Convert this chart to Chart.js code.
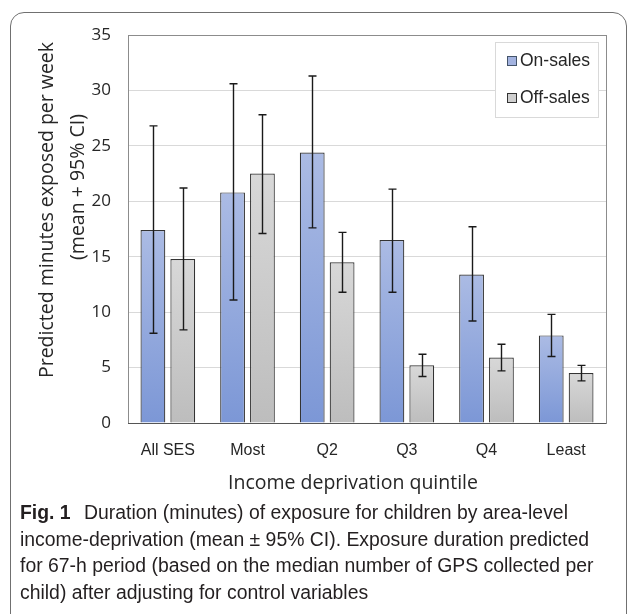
<!DOCTYPE html>
<html>
<head>
<meta charset="utf-8">
<script src="https://cdn.jsdelivr.net/npm/chart.js@4.4.0/dist/chart.umd.min.js"></script>
<style>
  body { margin: 0; background: #fff; width: 630px; height: 614px; overflow: hidden; position: relative; }
  #frame { position: absolute; left: 10px; top: 12px; width: 617px; height: 650px; border: 1px solid #707070; border-radius: 14px; box-sizing: border-box; }
  #wrap { position: absolute; left: 0; top: 0; width: 630px; height: 500px; }
  #caption { position: absolute; left: 20px; top: 499px; width: 605px; font-family: "Liberation Sans", Arial, sans-serif; font-size: 19.4px; line-height: 26.5px; color: #231f20; white-space: nowrap; }
  #caption b { margin-right: 8px; }
</style>
</head>
<body>
<div id="frame"></div>
<div id="wrap"><canvas id="exposureChart" width="630" height="500"></canvas></div>
<div id="caption">
  <b>Fig. 1</b> Duration (minutes) of exposure for children by area-level<br>
  income-deprivation (mean ± 95% CI). Exposure duration predicted<br>
  for 67-h period (based on the median number of GPS collected per<br>
  child) after adjusting for control variables
</div>
<script>
const categories = ['All SES', 'Most', 'Q2', 'Q3', 'Q4', 'Least'];
const onSales = [17.4, 20.8, 24.4, 16.5, 13.4, 7.9];
const onSalesLow = [8.1, 11.1, 17.6, 11.8, 9.2, 6.0];
const onSalesHigh = [26.8, 30.6, 31.3, 21.1, 17.7, 9.8];
const offSales = [14.8, 22.5, 14.5, 5.2, 5.9, 4.5];
const offSalesLow = [8.4, 17.1, 11.8, 4.2, 4.7, 3.8];
const offSalesHigh = [21.2, 27.8, 17.2, 6.2, 7.1, 5.2];
const yTicks = [0, 5, 10, 15, 20, 25, 30, 35];
const yTitle = ['Predicted minutes exposed per week', '(mean + 95% CI)'];
const xTitle = 'Income deprivation quintile';

const errLow = [onSalesLow, offSalesLow];
const errHigh = [onSalesHigh, offSalesHigh];
const titleFont = '19.5px "Open Sans", sans-serif';

function barGradient(top, bottom) {
    return function (context) {
        const chart = context.chart;
        if (!chart.chartArea || context.parsed == null) return bottom;
        const y = chart.scales.y;
        const y0 = y.getPixelForValue(0);
        const y1 = y.getPixelForValue(context.parsed.y);
        const g = chart.ctx.createLinearGradient(0, y1, 0, y0);
        g.addColorStop(0, top);
        g.addColorStop(1, bottom);
        return g;
    };
}

// error bars, plot frame, axis titles and legend box
const extras = {
    id: 'extras',
    beforeDatasetsDraw(chart) {
        const { ctx, chartArea: a } = chart;
        ctx.save();
        ctx.strokeStyle = '#8c8c8c';
        ctx.lineWidth = 1;
        ctx.strokeRect(Math.round(a.left) + 0.5, Math.round(a.top) + 0.5, Math.round(a.right - a.left), Math.round(a.bottom - a.top));
        ctx.restore();
    },
    afterDatasetsDraw(chart) {
        const { ctx, scales } = chart;
        const a = chart.chartArea;
        ctx.save();
        ctx.strokeStyle = '#1a1a1a';
        ctx.lineWidth = 1.4;
        chart.data.datasets.forEach((ds, i) => {
            const meta = chart.getDatasetMeta(i);
            meta.data.forEach((bar, j) => {
                const x = Math.round(bar.x) + 0.5;
                const lo = scales.y.getPixelForValue(errLow[i][j]);
                const hi = scales.y.getPixelForValue(errHigh[i][j]);
                ctx.beginPath();
                ctx.moveTo(x, lo); ctx.lineTo(x, hi);
                ctx.moveTo(x - 4, lo); ctx.lineTo(x + 4, lo);
                ctx.moveTo(x - 4, hi); ctx.lineTo(x + 4, hi);
                ctx.stroke();
            });
        });
        // bottom axis line
        ctx.strokeStyle = '#555';
        ctx.lineWidth = 1.2;
        ctx.beginPath();
        ctx.moveTo(a.left, Math.round(a.bottom) + 0.5);
        ctx.lineTo(a.right, Math.round(a.bottom) + 0.5);
        ctx.stroke();

        // axis titles
        ctx.fillStyle = '#262626';
        ctx.font = titleFont;
        ctx.textAlign = 'center';
        ctx.textBaseline = 'alphabetic';
        ctx.fillText(xTitle, 353, 489);
        [[53, 210], [84, 187]].forEach(([bx, cy], k) => {
            ctx.save();
            ctx.translate(bx, cy);
            ctx.rotate(-Math.PI / 2);
            ctx.fillText(yTitle[k], 0, 0);
            ctx.restore();
        });

        // legend
        const lx = 495.5, ly = 42.5, lw = 103, lh = 75;
        ctx.fillStyle = '#fff';
        ctx.fillRect(lx, ly, lw, lh);
        ctx.strokeStyle = '#d9d9d9';
        ctx.lineWidth = 1;
        ctx.strokeRect(lx, ly, lw, lh);
        const swatch = [['#a3b3e0', '#44546a'], ['#cfcfcf', '#333']];
        chart.data.datasets.forEach((ds, i) => {
            const cy = 61 + i * 37;
            ctx.fillStyle = swatch[i][0];
            ctx.fillRect(507.5, cy - 4.5, 9, 9);
            ctx.strokeStyle = swatch[i][1];
            ctx.strokeRect(507.5, cy - 4.5, 9, 9);
            ctx.fillStyle = '#262626';
            ctx.font = '17.5px "Liberation Sans", Arial, sans-serif';
            ctx.textAlign = 'left';
            ctx.textBaseline = 'middle';
            ctx.fillText(ds.label, 520, cy);
        });
        ctx.restore();
    }
};

new Chart(document.getElementById('exposureChart'), {
    type: 'bar',
    data: {
        labels: categories,
        datasets: [
            {
                label: 'On-sales',
                data: onSales,
                backgroundColor: barGradient('#abbbe4', '#7c97d6'),
                borderColor: '#333',
                borderWidth: 1.2
            },
            {
                label: 'Off-sales',
                data: offSales,
                backgroundColor: barGradient('#d8d8d8', '#bdbdbd'),
                borderColor: '#333',
                borderWidth: 1.2
            }
        ]
    },
    options: {
        responsive: false,
        animation: false,
        events: [],
        layout: { padding: { left: 33, right: 24, top: 35, bottom: 0 } },
        datasets: { bar: { categoryPercentage: 0.75, barPercentage: 0.83 } },
        plugins: { legend: { display: false }, tooltip: { enabled: false } },
        scales: {
            x: {
                grid: { display: false },
                border: { display: false },
                ticks: { color: '#262626', padding: 10, font: { family: '"Liberation Sans", Arial, sans-serif', size: 16 } },
                afterFit(scale) { scale.height = 77; }
            },
            y: {
                min: 0,
                max: 35,
                afterBuildTicks(scale) { scale.ticks = yTicks.map(v => ({ value: v })); },
                grid: { color: '#d9d9d9', lineWidth: 1, drawTicks: false },
                border: { display: false },
                ticks: { color: '#262626', padding: 17, font: { family: '"Open Sans", sans-serif', size: 17 } },
                afterFit(scale) { scale.width = 95; }
            }
        }
    },
    plugins: [extras]
});
</script>
</body>
</html>
